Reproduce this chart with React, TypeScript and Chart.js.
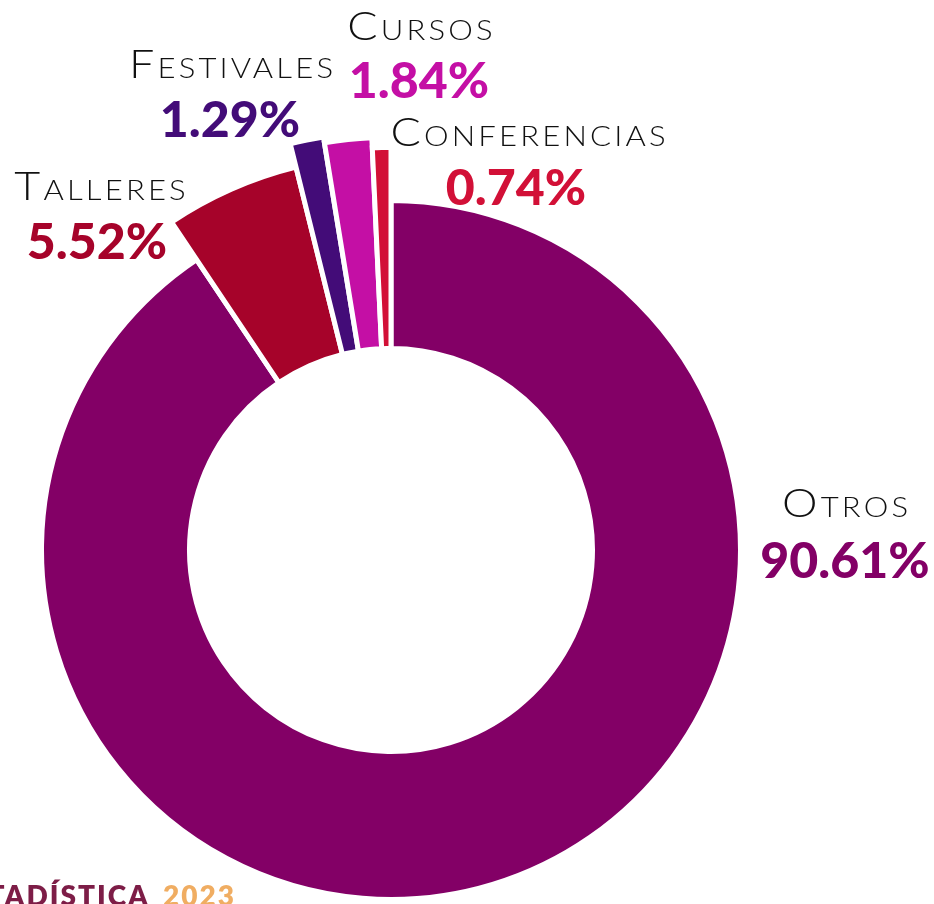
import React, { useEffect, useRef } from "react";
import { Chart, registerables } from "chart.js";

Chart.register(...registerables);

// ---- data ----
const CATEGORIES = ["Otros", "Talleres", "Festivales", "Cursos", "Conferencias"];
const PERCENTAGES = [90.61, 5.52, 1.29, 1.84, 0.74];
const COLORS = ["#830066", "#a6032a", "#430c78", "#c40fa5", "#d21037"];
const FOOTER_WORD = "ESTADÍSTICA";
const FOOTER_YEAR = "2023";

// ---- style ----
const OUTER_SCALE = [1, 1.13, 1.199, 1.182, 1.153]; // relative outer radius of each slice
const CUTOUT = 204 / 347;
const GAP = 5;
const LABEL_SCALE_X = 1.15;
const LABEL_POS = [
  { lx: 845, ly: 517, vx: 845, vy: 578 },
  { lx: 100, ly: 200, vx: 97, vy: 259 },
  { lx: 231, ly: 78, vx: 230, vy: 137 },
  { lx: 420, ly: 40, vx: 419, vy: 98 },
  { lx: 528, ly: 146, vx: 516, vy: 205 },
];

const radiusPlugin = {
  id: "varRadius",
  afterDatasetUpdate(chart: any, args: any) {
    const area = chart.chartArea;
    const base = Math.min(area.right - area.left, area.bottom - area.top) / 2;
    args.meta.data.forEach((el: any, i: number) => {
      el.outerRadius = base * OUTER_SCALE[i] + GAP / 2;
      el.innerRadius = base * CUTOUT - GAP / 2;
    });
  },
};

const labelPlugin = {
  id: "sliceLabels",
  afterDraw(chart: any) {
    const ctx = chart.ctx as CanvasRenderingContext2D;
    ctx.save();
    ctx.textAlign = "center";
    ctx.textBaseline = "alphabetic";
    CATEGORIES.forEach((c, i) => {
      const p = LABEL_POS[i];
      ctx.save();
      ctx.translate(p.lx, p.ly);
      ctx.scale(LABEL_SCALE_X, 1);
      ctx.fillStyle = "#111111";
      ctx.font = "small-caps 300 39px Lato";
      (ctx as any).letterSpacing = "2.75px";
      ctx.fillText(c, 1.4, 0);
      ctx.restore();
      (ctx as any).letterSpacing = "0px";
      ctx.fillStyle = COLORS[i];
      ctx.font = "900 50px Lato";
      ctx.fillText(PERCENTAGES[i].toFixed(2) + "%", p.vx, p.vy);
    });
    ctx.font = "800 28px Lato";
    (ctx as any).letterSpacing = "2px";
    ctx.textAlign = "right";
    ctx.fillStyle = "#7d1d47";
    ctx.fillText(FOOTER_WORD, 150, 906);
    ctx.textAlign = "left";
    ctx.fillStyle = "#f0ad62";
    ctx.fillText(FOOTER_YEAR, 163, 906);
    ctx.restore();
  },
};

export default function App() {
  const ref = useRef<HTMLCanvasElement | null>(null);
  useEffect(() => {
    if (!ref.current) return;
    const chart = new Chart(ref.current, {
      type: "doughnut",
      data: {
        labels: CATEGORIES,
        datasets: [
          {
            data: PERCENTAGES,
            backgroundColor: COLORS,
            borderColor: "#ffffff",
            borderWidth: GAP,
            borderJoinStyle: "miter",
          },
        ],
      },
      options: {
        responsive: false,
        animation: false,
        cutout: `${CUTOUT * 100}%`,
        layout: { padding: { left: 44, right: 196, top: 203, bottom: 7 } },
        plugins: { legend: { display: false }, tooltip: { enabled: false } },
      },
      plugins: [radiusPlugin, labelPlugin],
    });
    return () => chart.destroy();
  }, []);
  return (
    <div style={{ position: "absolute", left: 0, top: 0, width: 934, height: 904, background: "#fff" }}>
      <canvas ref={ref} width={934} height={904} style={{ width: 934, height: 904, display: "block" }} />
    </div>
  );
}
